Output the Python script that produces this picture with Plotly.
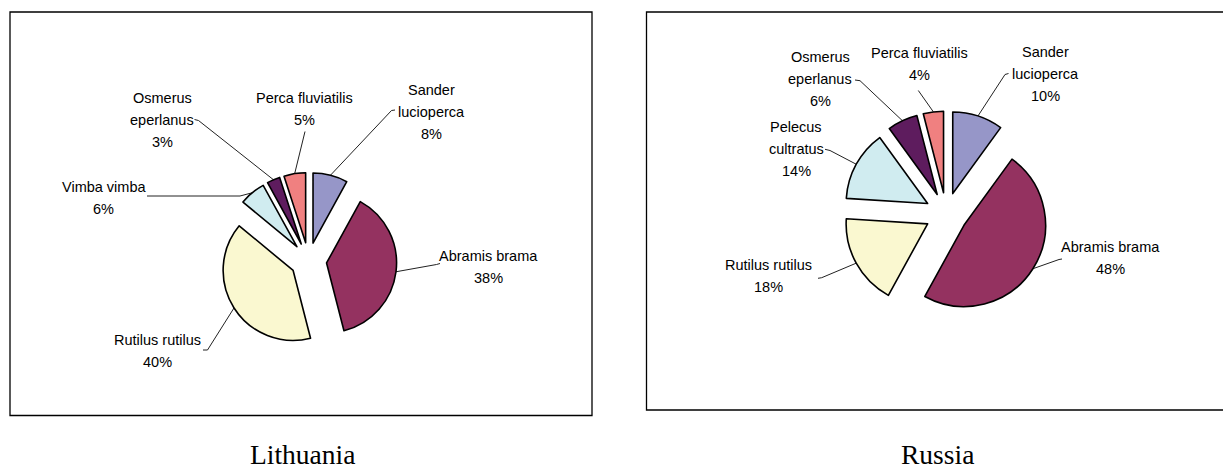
import math
import plotly.graph_objects as go

# ---------------- data ----------------
lt_species = ["Sander lucioperca", "Abramis brama", "Rutilus rutilus",
              "Vimba vimba", "Osmerus eperlanus", "Perca fluviatilis"]
lt_share = [8, 38, 40, 6, 3, 5]

ru_species = ["Sander lucioperca", "Abramis brama", "Rutilus rutilus",
              "Pelecus cultratus", "Osmerus eperlanus", "Perca fluviatilis"]
ru_share = [10, 48, 18, 14, 6, 4]

chart_titles = ["Lithuania", "Russia"]

# ---------------- styles / layout ----------------
W, H = 1231, 468
OFF = 8          # the page body margin that offsets the figure in the browser
PULL = 0.26
LINE_GAP = 22
LABEL_FONT = dict(family="Arial, Liberation Sans, sans-serif", size=14.5, color="black")
TITLE_FONT = dict(family="Times New Roman, Liberation Serif, serif", size=27.5, color="black")

species_colors = {
    "Sander lucioperca": "#9696C8",
    "Abramis brama": "#943260",
    "Rutilus rutilus": "#FAF8D0",
    "Vimba vimba": "#D0ECF0",
    "Pelecus cultratus": "#D0ECF0",
    "Osmerus eperlanus": "#5E1C5E",
    "Perca fluviatilis": "#F08080",
}

# all positions below are page pixels (from the top-left of the window)
charts = [
    dict(species=lt_species, share=lt_share, title=chart_titles[0],
         center=(308.5, 260.7), radius=70,
         box=(10, 12, 592, 415.5), title_xy=(302, 454),
         labels={
             "Sander lucioperca": dict(xy=(431.5, 90), wrap=True, path=[(395, 110), (391.5, 110.5)]),
             "Abramis brama": dict(xy=(488, 256), wrap=False, path=[(440, 263.5), (436.5, 264.5)]),
             "Rutilus rutilus": dict(xy=(157, 340), wrap=False, path=[(203, 350), (207.5, 350)]),
             "Vimba vimba": dict(xy=(103.5, 186.7), wrap=False, path=[(147, 196), (240, 196)]),
             "Osmerus eperlanus": dict(xy=(162, 98.3), wrap=True, path=[(194.5, 119.5), (198.5, 120.5)]),
             "Perca fluviatilis": dict(xy=(304.5, 98.3), wrap=False, path=[(305, 131.5)]),
         }),
    dict(species=ru_species, share=ru_share, title=chart_titles[1],
         center=(946.2, 213.7), radius=81.5,
         box=(646.5, 12, 1229, 410), title_xy=(937, 454),
         labels={
             "Sander lucioperca": dict(xy=(1045, 51.7), wrap=True, path=[(1008.5, 73.5), (1005, 74.5)]),
             "Abramis brama": dict(xy=(1110.7, 247.3), wrap=False, path=[(1062, 259), (1059, 259.5)]),
             "Rutilus rutilus": dict(xy=(768.3, 265), wrap=False, path=[(818, 278.3), (821.7, 277.7)]),
             "Pelecus cultratus": dict(xy=(796, 127.3), wrap=True, path=[(825, 149.3), (830, 150.5)]),
             "Osmerus eperlanus": dict(xy=(820, 56.7), wrap=True, path=[(855, 80), (860, 80.7)]),
             "Perca fluviatilis": dict(xy=(919, 53.3), wrap=False, path=[(918.3, 90.5)]),
         }),
]

fig = go.Figure()
annotations = []
shapes = []

for ch in charts:
    cx, cy = ch["center"]
    r = ch["radius"]
    half = r * (1 + PULL)
    dom_x = [(cx - OFF - half) / W, (cx - OFF + half) / W]
    dom_y = [1 - (cy - OFF + half) / H, 1 - (cy - OFF - half) / H]
    fig.add_trace(go.Pie(
        labels=ch["species"], values=ch["share"], sort=False,
        direction="clockwise", rotation=0, pull=[PULL] * len(ch["share"]),
        marker=dict(colors=[species_colors[s] for s in ch["species"]],
                    line=dict(color="black", width=1.6)),
        textinfo="none", hoverinfo="label+percent", showlegend=False,
        domain=dict(x=dom_x, y=dom_y),
    ))

    total = sum(ch["share"])
    cum = 0
    for name, val in zip(ch["species"], ch["share"]):
        mid = 2 * math.pi * (cum + val / 2) / total
        cum += val
        tipx = cx + r * (1 + PULL) * math.sin(mid)
        tipy = cy - r * (1 + PULL) * math.cos(mid)
        lab = ch["labels"][name]
        pts = lab["path"] + [(tipx, tipy)]
        fig.add_trace(go.Scatter(
            x=[p[0] for p in pts], y=[p[1] for p in pts], mode="lines",
            line=dict(color="#222222", width=1), hoverinfo="skip",
            showlegend=False, xaxis="x", yaxis="y"))
        lines = name.split(" ") if lab["wrap"] else [name]
        lines = lines + [f"{round(100 * val / total)}%"]
        lx, ly = lab["xy"]
        for i, t in enumerate(lines):
            annotations.append(dict(
                x=lx, y=ly + i * LINE_GAP, xref="x", yref="y", text=t,
                showarrow=False, xanchor="center", yanchor="middle",
                font=LABEL_FONT))

    x0, y0, x1, y1 = ch["box"]
    shapes.append(dict(type="rect", xref="x", yref="y", x0=x0, y0=y0, x1=x1, y1=y1,
                       line=dict(color="black", width=1.3), fillcolor="rgba(0,0,0,0)",
                       layer="below"))
    tx, ty = ch["title_xy"]
    annotations.append(dict(x=tx, y=ty, xref="x", yref="y", text=ch["title"],
                            showarrow=False, xanchor="center", yanchor="middle",
                            font=TITLE_FONT))

fig.update_layout(
    width=W, height=H, autosize=False,
    margin=dict(l=0, r=0, t=0, b=0, pad=0),
    paper_bgcolor="white", plot_bgcolor="white",
    xaxis=dict(range=[OFF, W + OFF], visible=False, fixedrange=True),
    yaxis=dict(range=[H + OFF, OFF], visible=False, fixedrange=True),
    annotations=annotations, shapes=shapes,
)

fig.write_html("out.html")
